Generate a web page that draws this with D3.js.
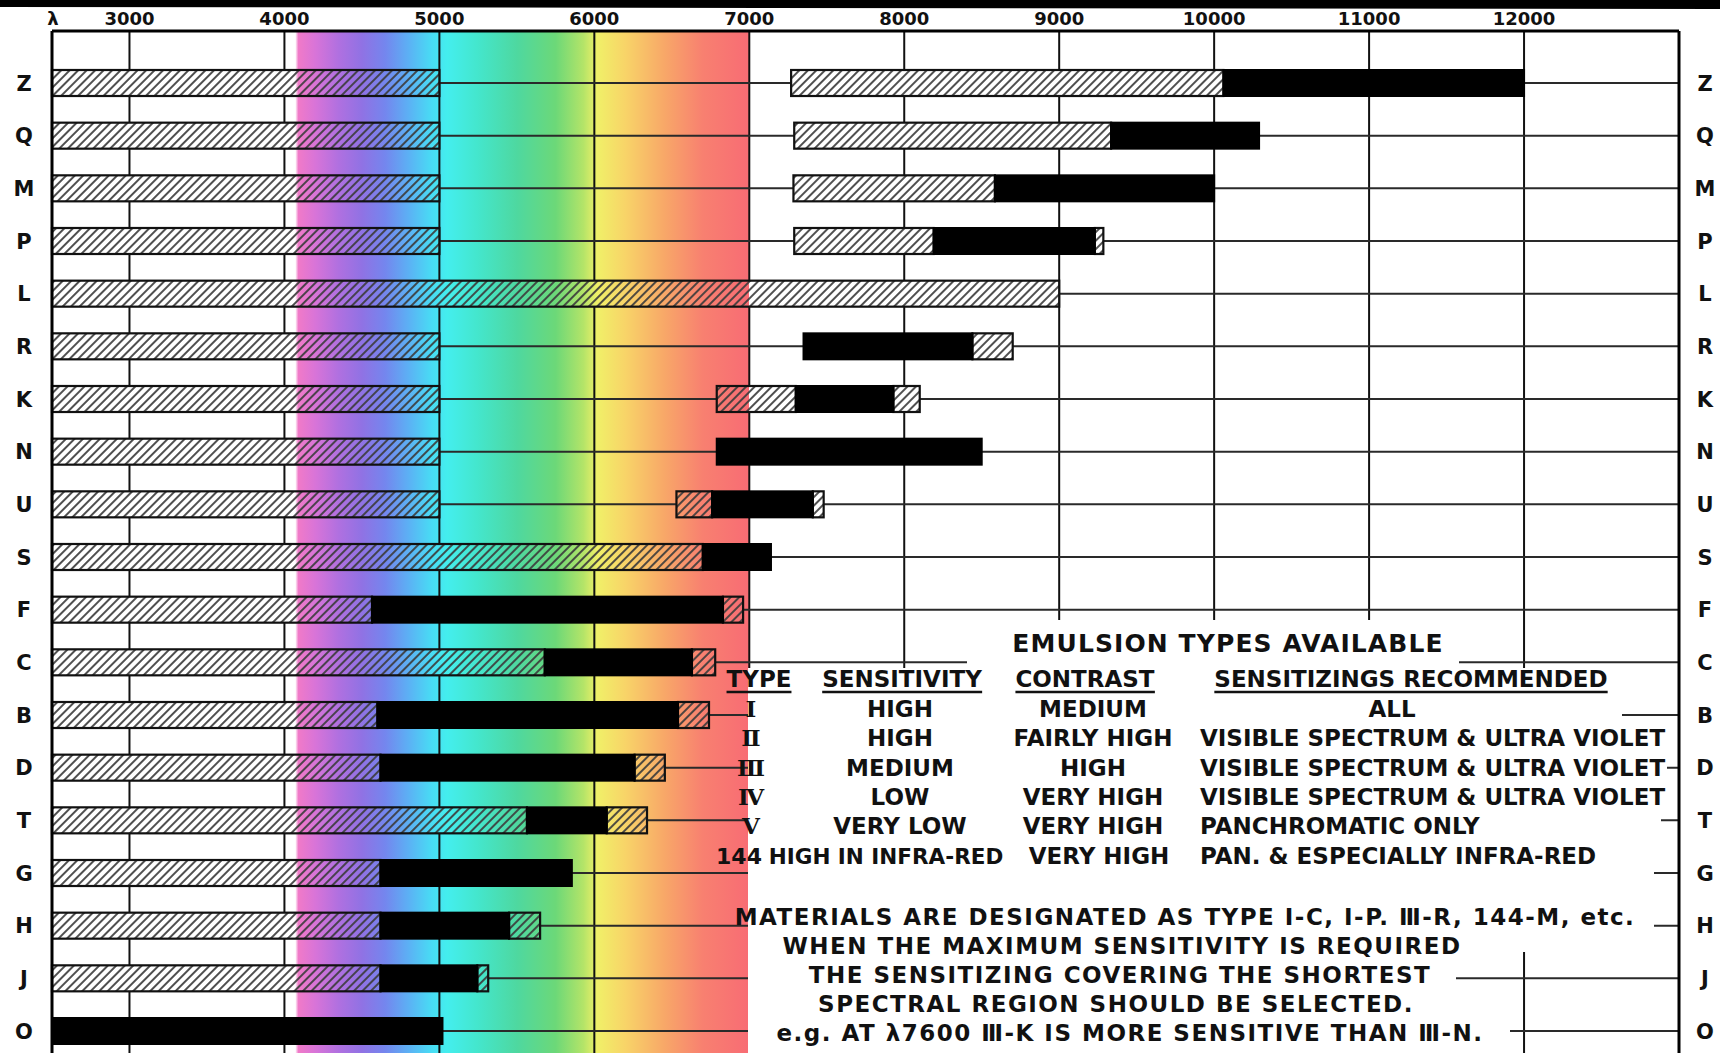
<!DOCTYPE html>
<html><head><meta charset="utf-8">
<script src="https://cdn.jsdelivr.net/npm/d3@7"></script>
<style>html,body{margin:0;padding:0;background:#fff}svg{display:block}</style>
</head><body>
<svg id="chart" width="1720" height="1053"></svg>
<script>
// ---------------- DATA ----------------
const rows = ["Z","Q","M","P","L","R","K","N","U","S","F","C","B","D","T","G","H","J","O"];
const tickValues = [3000,4000,5000,6000,7000,8000,9000,10000,11000,12000];
const tickLabels = ["3000","4000","5000","6000","7000","8000","9000","10000","11000","12000"];
// hatched (sensitive) ranges  [row, from λ, to λ]
const hatched = [
  ["Z",2500,5000],["Z",7270,10060],
  ["Q",2500,5000],["Q",7290,9335],
  ["M",2500,5000],["M",7285,8585],
  ["P",2500,5000],["P",7290,8190],["P",9230,9285],
  ["L",2500,9000],
  ["R",2500,5000],["R",8440,8700],
  ["K",2500,5000],["K",6790,7300],["K",7930,8100],
  ["N",2500,5000],
  ["U",2500,5000],["U",6530,6760],["U",7410,7480],
  ["S",2500,6700],
  ["F",2500,4565],["F",6830,6960],
  ["C",2500,5680],["C",6630,6780],
  ["B",2500,4600],["B",6540,6740],
  ["D",2500,4620],["D",6260,6455],
  ["T",2500,5565],["T",6080,6340],
  ["G",2500,4620],
  ["H",2500,4620],["H",5450,5650],
  ["J",2500,4620],["J",5245,5315]
];
// solid black (maximum sensitivity) ranges [row, from λ, to λ]
const solid = [
  ["Z",10060,12000],["Q",9335,10290],["M",8585,10000],["P",8190,9230],
  ["R",7350,8440],["K",7300,7930],["N",6790,8500],["U",6760,7410],
  ["S",6700,7140],["F",4565,6830],["C",5680,6630],["B",4600,6540],
  ["D",4620,6260],["T",5565,6080],["G",4620,5855],["H",4620,5450],
  ["J",4620,5245],["O",2500,5020]
];
const legendTitle = "EMULSION TYPES AVAILABLE";
const legendHeaders = ["TYPE","SENSITIVITY","CONTRAST","SENSITIZINGS RECOMMENDED"];
const legendType = ["Ⅰ","Ⅱ","Ⅲ","Ⅳ","Ⅴ","144"];
const legendSensitivity = ["HIGH","HIGH","MEDIUM","LOW","VERY LOW","HIGH IN INFRA-RED"];
const legendContrast = ["MEDIUM","FAIRLY HIGH","HIGH","VERY HIGH","VERY HIGH","VERY HIGH"];
const legendSensitizing = ["ALL","VISIBLE SPECTRUM & ULTRA VIOLET","VISIBLE SPECTRUM & ULTRA VIOLET","VISIBLE SPECTRUM & ULTRA VIOLET","PANCHROMATIC ONLY","PAN. & ESPECIALLY INFRA-RED"];
const notes = [
  "MATERIALS ARE DESIGNATED AS TYPE Ⅰ-C, Ⅰ-P. Ⅲ-R, 144-M, etc.",
  "WHEN THE MAXIMUM SENSITIVITY IS REQUIRED",
  "THE SENSITIZING COVERING THE SHORTEST",
  "SPECTRAL REGION SHOULD BE SELECTED.",
  "e.g. AT λ7600 Ⅲ-K IS MORE SENSITIVE THAN Ⅲ-N."
];

// ---------------- STYLE / LAYOUT ----------------
const spectrumStops = [
  [4070,"#ffffff"],[4090,"#f07ac8"],[4200,"#d874d8"],[4350,"#b070e0"],[4500,"#9072e4"],
  [4650,"#7486ee"],[4800,"#5cb0f4"],[4950,"#48dcf4"],[5050,"#44eeee"],[5250,"#44e6cc"],
  [5500,"#4ed8a0"],[5750,"#6cd878"],[5930,"#b4e468"],[6020,"#f0f068"],[6200,"#f8d468"],
  [6450,"#f8a868"],[6700,"#f88070"],[6999,"#f86c74"],[7000,"#ffffff"]
];
const FONT = "'DejaVu Sans', 'Liberation Sans', sans-serif";
const frameTop = 31, bottom = 1053;
const barH = 26;
const masks = [
  [967,620,1459,668],[748,668,1622,745],[748,745,1667,796],[748,796,1661,848],
  [748,848,1654,952],[748,952,1456,1053],[1456,1005,1510,1053]
];

const svg = d3.select("#chart");
const x = d3.scaleLinear().domain([2500,13000]).range([52,1679]);
const y = d3.scalePoint().domain(rows).range([83,1031]);

svg.append("rect").attr("width",1720).attr("height",1053).attr("fill","#fff");

const defs = svg.append("defs");
const grad = defs.append("linearGradient").attr("id","spec")
  .attr("gradientUnits","userSpaceOnUse")
  .attr("x1",x(2500)).attr("x2",x(13000)).attr("y1",0).attr("y2",0);
grad.selectAll("stop").data(spectrumStops).join("stop")
  .attr("offset",d=>(d[0]-2500)/10500).attr("stop-color",d=>d[1]);
const pat = defs.append("pattern").attr("id","hatch")
  .attr("patternUnits","userSpaceOnUse").attr("width",6).attr("height",6)
  .attr("patternTransform","rotate(45)");
pat.append("line").attr("x1",3).attr("x2",3).attr("y1",0).attr("y2",6)
  .attr("stroke","#3c3c3c").attr("stroke-width",1.8);

// spectrum band
svg.append("rect").attr("x",x(4070)).attr("y",frameTop)
  .attr("width",x(7000)-x(4070)).attr("height",bottom-frameTop)
  .attr("fill","url(#spec)");

// vertical grid
svg.append("g").selectAll("line").data(tickValues).join("line")
  .attr("x1",d=>x(d)).attr("x2",d=>x(d)).attr("y1",frameTop).attr("y2",bottom)
  .attr("stroke","#111").attr("stroke-width",2);

// row lines
svg.append("g").selectAll("line").data(rows).join("line")
  .attr("x1",x(2500)).attr("x2",x(13000)).attr("y1",d=>y(d)).attr("y2",d=>y(d))
  .attr("stroke","#2a2a2a").attr("stroke-width",2);

// hatched bars
const hg = svg.append("g");
hg.selectAll("rect.bg").data(hatched).join("rect").attr("class","bg")
  .attr("x",d=>x(d[1])).attr("y",d=>y(d[0])-barH/2)
  .attr("width",d=>x(d[2])-x(d[1])).attr("height",barH)
  .attr("fill","url(#spec)");
hg.selectAll("rect.ht").data(hatched).join("rect").attr("class","ht")
  .attr("x",d=>x(d[1])).attr("y",d=>y(d[0])-barH/2)
  .attr("width",d=>x(d[2])-x(d[1])).attr("height",barH)
  .attr("fill","url(#hatch)").attr("stroke","#111").attr("stroke-width",2.2);

// solid bars
svg.append("g").selectAll("rect").data(solid).join("rect")
  .attr("x",d=>x(d[1])).attr("y",d=>y(d[0])-barH/2)
  .attr("width",d=>x(d[2])-x(d[1])).attr("height",barH)
  .attr("fill","#000").attr("stroke","#000").attr("stroke-width",2);

// legend white areas
svg.append("g").selectAll("rect").data(masks).join("rect")
  .attr("x",d=>d[0]).attr("y",d=>d[1]).attr("width",d=>d[2]-d[0]).attr("height",d=>d[3]-d[1])
  .attr("fill","#fff");

// frame
const fr = svg.append("g").attr("stroke","#000").attr("stroke-width",3);
fr.append("line").attr("x1",x(2500)).attr("x2",x(13000)).attr("y1",frameTop).attr("y2",frameTop);
fr.append("line").attr("x1",x(2500)).attr("x2",x(2500)).attr("y1",frameTop).attr("y2",bottom);
fr.append("line").attr("x1",x(13000)).attr("x2",x(13000)).attr("y1",frameTop).attr("y2",bottom);

// row labels
const lab = svg.append("g").attr("font-family",FONT).attr("font-weight","bold")
  .attr("font-size",21).attr("fill","#111").attr("text-anchor","middle");
lab.selectAll("text.l").data(rows).join("text").attr("class","l")
  .attr("x",24).attr("y",d=>y(d)+7.5).text(d=>d);
lab.selectAll("text.r").data(rows).join("text").attr("class","r")
  .attr("x",1705).attr("y",d=>y(d)+7.5).text(d=>d);

// legend
const lg = svg.append("g").attr("font-family",FONT).attr("font-weight","bold").attr("fill","#111");
lg.append("text").attr("x",1228).attr("y",652).attr("font-size",25)
  .attr("letter-spacing",1.1).attr("text-anchor","middle").text(legendTitle);
const headerX = [759,902,1085,1411];
const hdr = lg.selectAll("text.h").data(legendHeaders).join("text").attr("class","h")
  .attr("x",(d,i)=>headerX[i]).attr("y",687).attr("font-size",23)
  .attr("text-anchor","middle").text(d=>d);
hdr.each(function(){
  const b = this.getBBox();
  lg.append("line").attr("x1",b.x).attr("x2",b.x+b.width).attr("y1",692).attr("y2",692)
    .attr("stroke","#111").attr("stroke-width",2.5);
});
const rowY = i => 717 + i*29.3;
lg.selectAll("text.t").data(legendType).join("text").attr("class","t")
  .attr("x",(d,i)=> i===5 ? 762 : 751).attr("y",(d,i)=>rowY(i))
  .attr("font-size",(d,i)=> i===5 ? 22 : 23)
  .attr("font-family",(d,i)=> i===5 ? FONT : "'DejaVu Serif', 'DejaVu Sans', serif")
  .attr("text-anchor",(d,i)=> i===5 ? "end" : "middle").text(d=>d);
lg.selectAll("text.s").data(legendSensitivity).join("text").attr("class","s")
  .attr("x",(d,i)=> i===5 ? 886 : 900).attr("y",(d,i)=>rowY(i))
  .attr("font-size",(d,i)=> i===5 ? 21.5 : 23)
  .attr("text-anchor","middle").text(d=>d);
lg.selectAll("text.c").data(legendContrast).join("text").attr("class","c")
  .attr("x",(d,i)=> i===5 ? 1099 : 1093).attr("y",(d,i)=>rowY(i)).attr("font-size",23)
  .attr("text-anchor","middle").text(d=>d);
lg.selectAll("text.z").data(legendSensitizing).join("text").attr("class","z")
  .attr("x",(d,i)=> i===0 ? 1392 : 1200).attr("y",(d,i)=>rowY(i)).attr("font-size",23)
  .attr("text-anchor",(d,i)=> i===0 ? "middle" : "start").text(d=>d);
const noteX = [1185,1122,1120,1116,1130];
lg.selectAll("text.n").data(notes).join("text").attr("class","n")
  .attr("x",(d,i)=>noteX[i]).attr("y",(d,i)=>925+i*29).attr("font-size",23)
  .attr("letter-spacing",1.5).attr("text-anchor","middle").text(d=>d);

// black photo border at the very top
svg.append("path").attr("d","M0,0 L1720,0 L1720,9 L0,7 Z").attr("fill","#000");

// top tick labels
const tk = svg.append("g").attr("font-family",FONT).attr("font-weight","bold")
  .attr("font-size",18).attr("fill","#111").attr("text-anchor","middle");
tk.selectAll("text").data(tickValues).join("text")
  .attr("x",d=>x(d)).attr("y",25).text((d,i)=>tickLabels[i]);
tk.append("text").attr("x",53).attr("y",25).text("λ");
</script>
</body></html>
